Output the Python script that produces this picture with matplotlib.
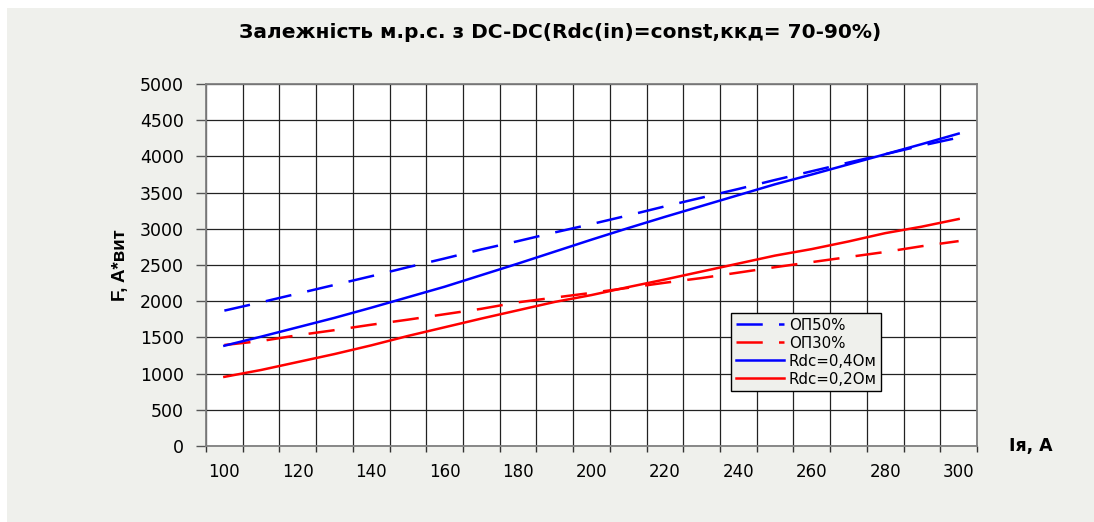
#!/usr/bin/env python

import matplotlib
matplotlib.use('AGG')
import numpy as np
import matplotlib.pyplot as plt
from matplotlib.patches import Rectangle

# DejaVu is wider than Arial, closer to the stretched Excel text
plt.rcParams['font.family'] = ['DejaVu Sans']

# armature current, A (one category per 10 A)
currents = [100, 110, 120, 130, 140, 150, 160, 170, 180, 190, 200,
            210, 220, 230, 240, 250, 260, 270, 280, 290, 300]
tick_labels = ["100", "120", "140", "160", "180", "200",
               "220", "240", "260", "280", "300"]

op50 = [1870, 1985, 2105, 2225, 2345, 2470, 2590, 2715, 2830, 2950, 3065,
        3185, 3310, 3430, 3550, 3675, 3795, 3915, 4030, 4150, 4260]
op30 = [1395, 1450, 1530, 1600, 1675, 1745, 1820, 1895, 1985, 2050, 2115,
        2185, 2255, 2320, 2395, 2470, 2540, 2610, 2680, 2760, 2830]
rdc04 = [1385, 1510, 1640, 1770, 1910, 2055, 2200, 2360, 2520, 2685, 2850,
         3010, 3165, 3315, 3465, 3615, 3750, 3890, 4030, 4170, 4315]
rdc02 = [955, 1050, 1160, 1270, 1390, 1520, 1640, 1760, 1875, 1990, 2085,
         2195, 2300, 2410, 2520, 2630, 2720, 2825, 2940, 3030, 3135]

BG = '#EFF0EC'
DASH = (0, (10.5, 6.5))

fig = plt.figure(figsize=(10.94, 5.22), dpi=100, facecolor='white')
# grey chart area with a thin white margin on the top and left
fig.patches.append(Rectangle((7 / 1094, 0), 1 - 7 / 1094, 1 - 8 / 522,
                             transform=fig.transFigure, facecolor=BG,
                             edgecolor='none', zorder=-10))

ax = fig.add_axes([206 / 1094, 1 - 446 / 522, 771 / 1094, 362 / 522])
ax.set_facecolor('white')

x = np.arange(len(currents))
ax.plot(x, op50, color='#0000FF', lw=1.8, ls=DASH, label='ОП50%', zorder=3)
ax.plot(x, op30, color='#FF0000', lw=1.8, ls=DASH, label='ОП30%', zorder=3)
ax.plot(x, rdc04, color='#0000FF', lw=1.8, label='Rdc=0,4Ом', zorder=3)
ax.plot(x, rdc02, color='#FF0000', lw=1.8, label='Rdc=0,2Ом', zorder=3)

ax.set_xlim(-0.5, len(currents) - 0.5)
ax.set_ylim(0, 5000)

# category axis: tick marks and grid between categories, labels every 20 A
ax.set_xticks(np.arange(-0.5, len(currents)), minor=True)
ax.set_xticks(x[::2])
ax.set_xticklabels(tick_labels)
ax.tick_params(axis='x', which='major', length=0, pad=12, labelsize=12)
ax.tick_params(axis='x', which='minor', length=4, width=1, color='#333333')
ax.set_yticks(np.arange(0, 5001, 500))
ax.tick_params(axis='y', length=7, width=1, color='#555555', pad=9,
               labelsize=12.5)

ax.grid(True, which='minor', axis='x', color='#222222', lw=0.9)
ax.grid(True, which='major', axis='y', color='#222222', lw=0.9)
ax.set_axisbelow(True)
for sp in ax.spines.values():
    sp.set_color('#808080')
    sp.set_linewidth(1.3)

fig.text(560 / 1094, 1 - 33 / 522,
         'Залежність м.р.с. з DC-DC(Rdc(in)=const,ккд= 70-90%)',
         ha='center', va='center', fontsize=14.5, fontweight='bold')
fig.text(120 / 1094, 1 - 265 / 522, 'F, A*вит', rotation=90,
         ha='center', va='center', fontsize=13.5, fontweight='bold',
         family=['Liberation Sans', 'DejaVu Sans'])
fig.text(1031 / 1094, 1 - 446 / 522, 'Iя, А',
         ha='center', va='center', fontsize=12.5, fontweight='bold')

leg = ax.legend(loc='upper left', bbox_to_anchor=(0.681, 0.367),
                fontsize=10.8, handlelength=3.2, handletextpad=0.35,
                labelspacing=0.2, borderpad=0.3, borderaxespad=0,
                fancybox=False, framealpha=1, facecolor=BG,
                edgecolor='black')
leg.get_frame().set_linewidth(1)

fig.savefig('out.png', dpi=100, facecolor=fig.get_facecolor())
